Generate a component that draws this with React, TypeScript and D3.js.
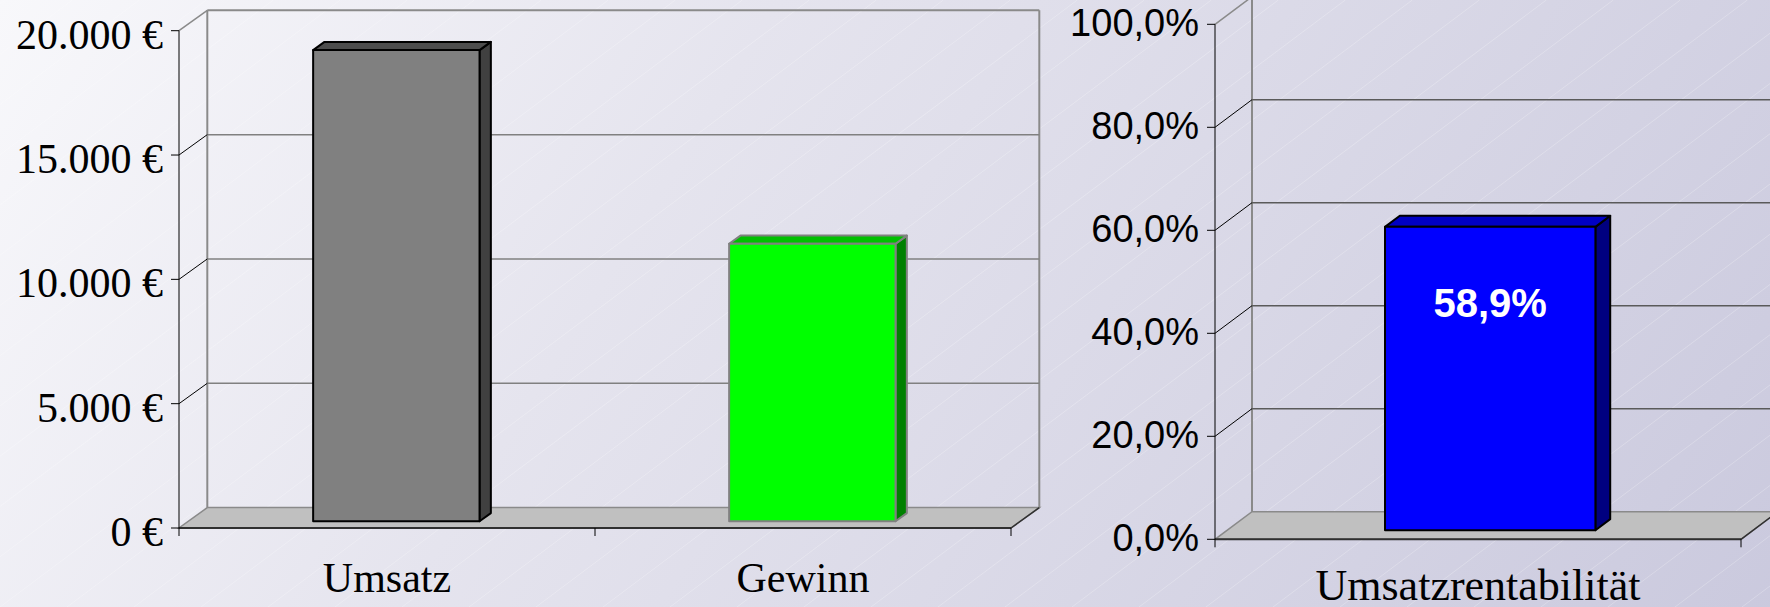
import React from "react";
import { scaleLinear, scaleBand, formatLocale, range } from "d3";

const W = 1770;
const H = 607;

// left chart: Umsatz / Gewinn in Euro
const moneyCategories = ["Umsatz", "Gewinn"];
const moneyValues = [18950, 11160];
const moneyTicks = [0, 5000, 10000, 15000, 20000];
const moneyColors = [
  { front: "#808080", top: "#4d4d4d", side: "#404040", stroke: "#000000" },
  { front: "#00ff00", top: "#00c000", side: "#008000", stroke: "#808080" },
];

// right chart: Umsatzrentabilität in Prozent
const rateCategories = ["Umsatzrentabilität"];
const rateValues = [58.9];
const rateTicks = [0, 20, 40, 60, 80, 100];
const rateColors = [
  { front: "#0000ff", top: "#0000c4", side: "#000080", stroke: "#000000" },
];

const de = formatLocale({
  decimal: ",",
  thousands: ".",
  grouping: [3],
  currency: ["", " €"],
});
const fmtEuro = (v: number) => de.format(",.0f")(v) + " €";
const fmtPct = (v: number) => de.format(".1f")(v) + "%";

interface ChartProps {
  left: number;
  right: number;
  top: number;
  bottom: number;
  depthX: number;
  depthY: number;
  domain: [number, number];
  ticks: number[];
  tickFormat: (v: number) => string;
  categories: string[];
  values: number[];
  colors: any[];
  tickFont: string;
  tickSize: number;
  tickDy: number;
  catFont: string;
  catSize: number;
  catY: number;
  gridColor: string;
  showValue?: boolean;
}

const Bar3DChart: React.FC<ChartProps> = (p) => {
  const y = scaleLinear().domain(p.domain).range([p.bottom, p.top]);
  const x = scaleBand().domain(p.categories).range([p.left, p.right]);
  const dx = p.depthX;
  const dy = p.depthY;
  // bar sits a bit inside the floor, with its own depth
  const f0 = 0.33;
  const fd = 0.4;
  const barW = x.bandwidth() * 0.4;
  const [y0, y1] = [y(p.domain[0]), y(p.domain[1])];

  const pts = (arr: number[][]) => arr.map((d) => d.join(",")).join(" ");

  return (
    <g>
      {/* back wall */}
      <line x1={p.left + dx} x2={p.left + dx} y1={y1 + dy} y2={y0 + dy} stroke="#8a8a8a" strokeWidth={2} />
      <line x1={p.left + dx} x2={p.right + dx} y1={y1 + dy} y2={y1 + dy} stroke="#8a8a8a" strokeWidth={2} />
      <line x1={p.right + dx} x2={p.right + dx} y1={y1 + dy} y2={y0 + dy} stroke="#8a8a8a" strokeWidth={2} />
      {p.ticks.slice(1, -1).map((t) => (
        <g key={"g" + t}>
          <line x1={p.left + dx} x2={p.right + dx} y1={y(t) + dy} y2={y(t) + dy} stroke={p.gridColor} strokeWidth={1.5} />
          <line x1={p.left} x2={p.left + dx} y1={y(t)} y2={y(t) + dy} stroke="#000" strokeWidth={1} />
        </g>
      ))}
      <line x1={p.left} x2={p.left + dx} y1={y1} y2={y1 + dy} stroke="#8a8a8a" strokeWidth={1.5} />

      {/* floor */}
      <polygon
        points={pts([[p.left, y0], [p.right, y0], [p.right + dx, y0 + dy], [p.left + dx, y0 + dy]])}
        fill="#c0c0c0"
        stroke="#8a8a8a"
        strokeWidth={1.5}
      />
      <line x1={p.left} x2={p.right} y1={y0} y2={y0} stroke="#303030" strokeWidth={2} />
      <line x1={p.right} x2={p.right + dx} y1={y0} y2={y0 + dy} stroke="#303030" strokeWidth={1.5} />

      {/* bars */}
      {p.values.map((v, i) => {
        const c = p.colors[i];
        const cx = (x(p.categories[i]) as number) + x.bandwidth() / 2;
        const ox = dx * f0;
        const oy = dy * f0;
        const bx = dx * fd;
        const by = dy * fd;
        const xl = cx - barW / 2 + ox;
        const xr = cx + barW / 2 + ox;
        const yt = y(v) + oy;
        const yb = y(0) + oy;
        return (
          <g key={"b" + i} strokeWidth={2} stroke={c.stroke} strokeLinejoin="round">
            <polygon points={pts([[xr, yt], [xr + bx, yt + by], [xr + bx, yb + by], [xr, yb]])} fill={c.side} />
            <polygon points={pts([[xl, yt], [xr, yt], [xr + bx, yt + by], [xl + bx, yt + by]])} fill={c.top} />
            <rect x={xl} y={yt} width={xr - xl} height={yb - yt} fill={c.front} />
            {p.showValue && (
              <text
                x={(xl + xr) / 2}
                y={yt + 90}
                textAnchor="middle"
                fill="#fff"
                stroke="none"
                fontFamily="'Liberation Sans', Arial, sans-serif"
                fontWeight="bold"
                fontSize={40}
              >
                {fmtPct(v)}
              </text>
            )}
          </g>
        );
      })}

      {/* front value axis */}
      <line x1={p.left} x2={p.left} y1={y1} y2={y0} stroke="#000" strokeWidth={1} />
      {p.ticks.map((t) => (
        <g key={"t" + t}>
          <line x1={p.left - 8} x2={p.left} y1={y(t)} y2={y(t)} stroke="#000" strokeWidth={1} />
          <text
            x={p.left - 16}
            y={y(t) + p.tickDy}
            textAnchor="end"
            fontFamily={p.tickFont}
            fontSize={p.tickSize}
            fill="#000"
          >
            {p.tickFormat(t)}
          </text>
        </g>
      ))}

      {/* category axis */}
      {range(p.categories.length + 1).map((i) => {
        const xx = p.left + i * x.step();
        return <line key={"c" + i} x1={xx} x2={xx} y1={y0} y2={y0 + 8} stroke="#000" strokeWidth={1} />;
      })}
      {p.categories.map((c) => (
        <text
          key={c}
          x={(x(c) as number) + x.bandwidth() / 2}
          y={p.catY}
          textAnchor="middle"
          fontFamily={p.catFont}
          fontSize={p.catSize}
          fill="#000"
        >
          {c}
        </text>
      ))}
    </g>
  );
};

export default function App() {
  const serif = "'Liberation Serif', 'Times New Roman', serif";
  const sans = "'Liberation Sans', Arial, sans-serif";
  return (
    <svg
      width={W}
      height={H}
      style={{ position: "absolute", left: 0, top: 0, display: "block" }}
    >
      <defs>
        <linearGradient id="bg" gradientUnits="userSpaceOnUse" x1={0} y1={0} x2={1600} y2={1000}>
          <stop offset="0" stopColor="#f8f8fb" />
          <stop offset="0.35" stopColor="#e5e4ee" />
          <stop offset="1" stopColor="#c9c8dd" />
        </linearGradient>
      </defs>
      <rect width={W} height={H} fill="url(#bg)" />
      <g stroke="#ffffff" strokeOpacity={0.35} strokeWidth={0.7}>
        {range(-14, 28).map((k) => (
          <line key={k} x1={k * 67} y1={H} x2={k * 67 + H / 0.75} y2={0} />
        ))}
      </g>

      <Bar3DChart
        left={179}
        right={1011}
        top={30.7}
        bottom={528}
        depthX={28.3}
        depthY={-20.4}
        domain={[0, 20000]}
        ticks={moneyTicks}
        tickFormat={fmtEuro}
        categories={moneyCategories}
        values={moneyValues}
        colors={moneyColors}
        tickFont={serif}
        tickSize={42}
        tickDy={18}
        catFont={serif}
        catSize={42}
        catY={592}
        gridColor="#808080"
      />
      <Bar3DChart
        left={1215}
        right={1741}
        top={24.3}
        bottom={539.3}
        depthX={37}
        depthY={-27.6}
        domain={[0, 100]}
        ticks={rateTicks}
        tickFormat={fmtPct}
        categories={rateCategories}
        values={rateValues}
        colors={rateColors}
        tickFont={sans}
        tickSize={38}
        tickDy={12}
        catFont={serif}
        catSize={44}
        catY={600}
        gridColor="#5a5a5a"
        showValue
      />
    </svg>
  );
}
